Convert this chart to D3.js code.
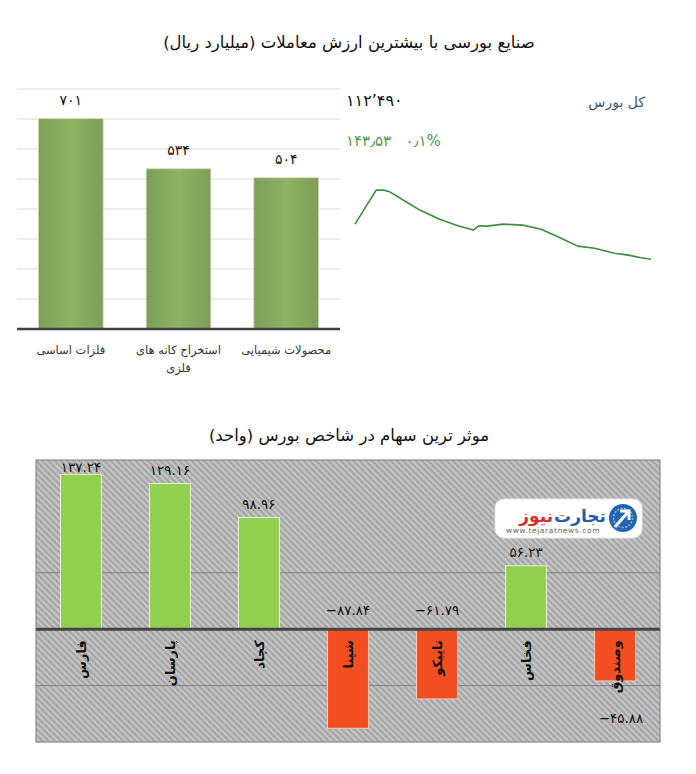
<!DOCTYPE html>
<html>
<head>
<meta charset="utf-8">
<script src="https://cdn.jsdelivr.net/npm/d3@7"></script>
<style>
  body { margin: 0; background: #fff; }
  svg { display: block; font-family: "DejaVu Sans", sans-serif; }
</style>
</head>
<body>
<svg id="chart"></svg>
<script>
// Top bar chart: industries with the highest trade value (billion rials)
const industries = ["فلزات اساسی", "استخراج کانه های فلزی", "محصولات شیمیایی"];
const industryLines = [["فلزات اساسی"], ["استخراج کانه های", "فلزی"], ["محصولات شیمیایی"]];
const industryValues = [701, 534, 504];
const industryLabels = ["۷۰۱", "۵۳۴", "۵۰۴"];
const industryTicks = [100, 200, 300, 400, 500, 600, 700, 800];

// Index intraday line (minutes after open, index value)
const indexMinutes = [0, 15, 20, 25, 35, 46, 60, 73, 84, 88, 94, 105, 119, 132, 144, 158, 170, 184, 194, 203, 210];
const indexValues = [112666, 112836, 112836, 112826, 112783, 112736, 112690, 112658, 112636, 112658, 112656,
  112666, 112661, 112640, 112603, 112556, 112545, 112520, 112511, 112498, 112490];

// Bottom chart: most influential stocks on the index (units)
const stocks = ["فارس", "پارسان", "کچاد", "شپنا", "تاپیکو", "فخاس", "وصندوق"];
const stockValues = [137.24, 129.16, 98.96, -87.84, -61.79, 56.23, -45.88];
const stockLabels = ["۱۳۷.۲۴", "۱۲۹.۱۶", "۹۸.۹۶", "−۸۷.۸۴", "−۶۱.۷۹", "۵۶.۲۳", "−۴۵.۸۸"];
const stockTicks = [-50, 50];

const width = 696;
const height = 774;

const svg = d3.select("#chart").attr("width", width).attr("height", height);
svg.append("rect").attr("width", width).attr("height", height).attr("fill", "#fff");

const defs = svg.append("defs");

// Bar gradient for the top chart
const grad = defs.append("linearGradient").attr("id", "greenBar").attr("x1", 0).attr("x2", 1).attr("y1", 0).attr("y2", 0);
grad.append("stop").attr("offset", "0%").attr("stop-color", "#7e9e58");
grad.append("stop").attr("offset", "50%").attr("stop-color", "#8db363");
grad.append("stop").attr("offset", "100%").attr("stop-color", "#7e9e58");

// Hatch pattern for the bottom chart background
const hatch = defs.append("pattern")
  .attr("id", "hatch")
  .attr("patternUnits", "userSpaceOnUse")
  .attr("width", 4.4)
  .attr("height", 4.4)
  .attr("patternTransform", "rotate(-45)");
hatch.append("rect").attr("width", 4.4).attr("height", 4.4).attr("fill", "#a8a8a8");
hatch.append("rect").attr("width", 2).attr("height", 4.4).attr("fill", "#c6c6c6");

// ---------- Title 1
svg.append("text")
  .attr("x", 349).attr("y", 48)
  .attr("text-anchor", "middle")
  .attr("font-size", 16.5)
  .attr("fill", "#111")
  .text("صنایع بورسی با بیشترین ارزش معاملات  (میلیارد ریال)");

// ---------- Top bar chart
const x1 = d3.scaleBand().domain(industries).range([17, 340]).paddingInner(0.4).paddingOuter(0.2);
const y1 = d3.scaleLinear().domain([0, 800]).range([329, 89]);

svg.append("g")
  .selectAll("line")
  .data(industryTicks)
  .join("line")
  .attr("x1", 17).attr("x2", 340)
  .attr("y1", d => y1(d)).attr("y2", d => y1(d))
  .attr("stroke", "#d9d9d9");

svg.append("g")
  .selectAll("rect")
  .data(industryValues)
  .join("rect")
  .attr("x", (d, i) => x1(industries[i]))
  .attr("y", d => y1(d))
  .attr("width", x1.bandwidth())
  .attr("height", d => y1(0) - y1(d))
  .attr("fill", "url(#greenBar)")
  .attr("stroke", "#c9d9b6")
  .attr("stroke-width", 0.8);

svg.append("line")
  .attr("x1", 17).attr("x2", 340)
  .attr("y1", y1(0)).attr("y2", y1(0))
  .attr("stroke", "#404040")
  .attr("stroke-width", 2.5);

svg.append("g")
  .selectAll("text")
  .data(industryValues)
  .join("text")
  .attr("x", (d, i) => x1(industries[i]) + x1.bandwidth() / 2)
  .attr("y", d => y1(d) - 14)
  .attr("text-anchor", "middle")
  .attr("font-size", 14)
  .attr("fill", "#111")
  .text((d, i) => industryLabels[i]);

const catG = svg.append("g");
industries.forEach((c, i) => {
  industryLines[i].forEach((line, j) => {
    catG.append("text")
      .attr("x", x1(c) + x1.bandwidth() / 2)
      .attr("y", 354 + j * 18)
      .attr("text-anchor", "middle")
      .attr("font-size", 11.5)
      .attr("fill", "#333")
      .text(line);
  });
});

// ---------- Index line panel
const xl = d3.scaleLinear().domain([0, 210]).range([355, 651]);
const yl = d3.scaleLinear().domain([112400, 112900]).range([277.3, 177.3]);

svg.append("path")
  .datum(indexValues)
  .attr("fill", "none")
  .attr("stroke", "#3c8d3c")
  .attr("stroke-width", 1.6)
  .attr("stroke-linejoin", "round")
  .attr("d", d3.line().x((d, i) => xl(indexMinutes[i])).y(d => yl(d)));

svg.append("text")
  .attr("x", 346).attr("y", 106)
  .attr("font-size", 16)
  .attr("fill", "#111")
  .attr("direction", "ltr")
  .text("۱۱۲’۴۹۰");

svg.append("text")
  .attr("x", 645).attr("y", 107)
  .attr("text-anchor", "end")
  .attr("font-size", 14)
  .attr("fill", "#3b5670")
  .text("کل بورس");

svg.append("text")
  .attr("x", 346).attr("y", 146)
  .attr("font-size", 15)
  .attr("fill", "#4c9a52")
  .attr("direction", "ltr")
  .attr("xml:space", "preserve")
  .text("۱۴۳٫۵۳   ۰٫۱%");

// ---------- Title 2
svg.append("text")
  .attr("x", 349).attr("y", 441)
  .attr("text-anchor", "middle")
  .attr("font-size", 16.5)
  .attr("fill", "#111")
  .text("موثر ترین سهام در شاخص بورس (واحد)");

// ---------- Bottom chart
const box = { left: 36, right: 660, top: 460, bottom: 742 };
const x2 = d3.scaleBand().domain(stocks).range([box.left, box.right]).paddingInner(0.54).paddingOuter(0.275);
const y2 = d3.scaleLinear().domain([-100, 150]).range([box.bottom, box.top]);

svg.append("rect")
  .attr("x", box.left).attr("y", box.top)
  .attr("width", box.right - box.left).attr("height", box.bottom - box.top)
  .attr("fill", "url(#hatch)")
  .attr("stroke", "#8a8a8a")
  .attr("stroke-width", 1.2);

svg.append("g")
  .selectAll("line")
  .data(stockTicks)
  .join("line")
  .attr("x1", box.left).attr("x2", box.right)
  .attr("y1", d => y2(d)).attr("y2", d => y2(d))
  .attr("stroke", "#7f7f7f")
  .attr("stroke-width", 1);

svg.append("g")
  .selectAll("rect")
  .data(stockValues)
  .join("rect")
  .attr("x", (d, i) => x2(stocks[i]))
  .attr("y", d => y2(Math.max(0, d)))
  .attr("width", x2.bandwidth())
  .attr("height", d => Math.abs(y2(d) - y2(0)))
  .attr("fill", d => d >= 0 ? "#92d050" : "#f24e22")
  .attr("stroke", d => d >= 0 ? "#e3f3d2" : "#f9c6b6")
  .attr("stroke-width", 1);

svg.append("line")
  .attr("x1", box.left).attr("x2", box.right)
  .attr("y1", y2(0)).attr("y2", y2(0))
  .attr("stroke", "#454545")
  .attr("stroke-width", 3);

// value labels
svg.append("g")
  .selectAll("text")
  .data(stockValues)
  .join("text")
  .attr("x", (d, i) => x2(stocks[i]) + x2.bandwidth() / 2 + (i === stocks.length - 1 ? 6 : 0))
  .attr("y", (d, i) => {
    if (d >= 0) return Math.max(y2(d) - 9, box.top + 12);
    if (i === stocks.length - 1) return y2(d) + 42;
    return y2(0) - 14;
  })
  .attr("text-anchor", "middle")
  .attr("direction", "ltr")
  .attr("font-size", 13.5)
  .attr("fill", "#111")
  .text((d, i) => stockLabels[i]);

// rotated category labels
svg.append("g")
  .selectAll("text")
  .data(stocks)
  .join("text")
  .attr("transform", d => `translate(${x2(d) + x2.bandwidth() / 2 + 5},${y2(0) + 11}) rotate(-90)`)
  .attr("text-anchor", "end")
  .attr("font-size", 13)
  .attr("font-weight", "bold")
  .attr("fill", "#111")
  .text(d => d);

// ---------- watermark logo
const logo = svg.append("g");
logo.append("rect")
  .attr("x", 495).attr("y", 499)
  .attr("width", 147).attr("height", 39)
  .attr("rx", 9)
  .attr("fill", "#fff")
  .attr("stroke", "#e6e6e6");
logo.append("circle").attr("cx", 623).attr("cy", 518).attr("r", 14).attr("fill", "#2266b0");
logo.append("circle").attr("cx", 623).attr("cy", 518).attr("r", 9.5).attr("fill", "none")
  .attr("stroke", "#8fb6e0").attr("stroke-width", 1.5).attr("stroke-dasharray", "2 1.5");
logo.append("path")
  .attr("d", "M615,527 L628,512 M620,511 L629,511 L629,520")
  .attr("fill", "none")
  .attr("stroke", "#fff")
  .attr("stroke-width", 3);
const word1 = logo.append("text")
  .attr("x", 606).attr("y", 522)
  .attr("text-anchor", "end")
  .attr("font-size", 17)
  .attr("font-weight", "bold")
  .attr("fill", "#1f5ea8")
  .text("تجارت");
const w1 = word1.node().getComputedTextLength();
logo.append("text")
  .attr("x", 606 - w1 - 1).attr("y", 522)
  .attr("text-anchor", "end")
  .attr("font-size", 17)
  .attr("font-weight", "bold")
  .attr("fill", "#d52b2b")
  .text("نیوز");
logo.append("text")
  .attr("x", 553).attr("y", 533)
  .attr("text-anchor", "middle")
  .attr("font-size", 7.5)
  .attr("fill", "#666")
  .attr("letter-spacing", 0.6)
  .text("www.tejaratnews.com");
</script>
</body>
</html>
